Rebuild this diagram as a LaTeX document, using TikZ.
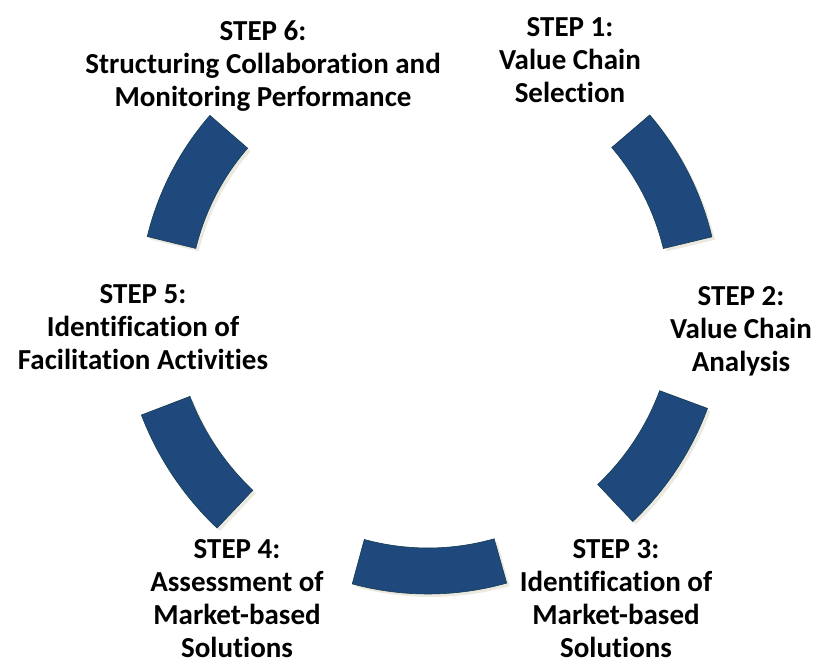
\documentclass[tikz,border=0pt]{standalone}
\usepackage{fontspec}
\setmainfont{Carlito}[Ligatures=NoCommon]
\usepackage{tikz}
\usetikzlibrary{positioning}
\definecolor{cycleblue}{RGB}{31, 73, 125}
\definecolor{cycleedge}{RGB}{20, 60, 80}
\definecolor{cycleshade}{RGB}{236, 234, 224}

\begin{document}
\begin{tikzpicture}[x=1pt, y=1pt,
    segm/.style={fill=cycleblue, draw=cycleedge, line width=0.6pt},
    segmshade/.style={fill=cycleshade},
    steplabel/.style={align=center, inner sep=0pt, font=\fontsize{29}{33}\selectfont\bfseries}]
    % Frame
    \useasboundingbox (0,0) rectangle (814,-666);
    % Ring segments (shadow first)
    \foreach \a/\b/\ri/\ro in {13.5/40.6/242/292, -46.6/-20.3/247/298, -105.2/-74.2/243/289,
                               -159/-133.4/255/307, 139/166.3/239/289} {
        \fill[segmshade, shift={(431,-308)}] (\a:\ri) arc[start angle=\a, end angle=\b, radius=\ri]
            -- (\b:\ro) arc[start angle=\b, end angle=\a, radius=\ro] -- cycle;
        \path[segm, shift={(428,-305)}] (\a:\ri) arc[start angle=\a, end angle=\b, radius=\ri]
            -- (\b:\ro) arc[start angle=\b, end angle=\a, radius=\ro] -- cycle;
    }
    % Labels
    \node[steplabel] (s6) at (263,-66) {STEP 6:\\Structuring Collaboration and\\Monitoring Performance};
    \node[steplabel] (s1) at (570,-60.5) {STEP 1:\\Value Chain\\Selection};
    \node[steplabel] (s2) at (741,-331) {STEP 2:\\Value Chain\\Analysis};
    \node[steplabel] (s5) at (143,-327) {STEP 5:\\Identification of\\Facilitation Activities};
    \node[steplabel] (s3) at (616,-598.5) {STEP 3:\\Identification of\\Market-based\\Solutions};
    \node[steplabel] (s4) at (237,-599) {STEP 4:\\Assessment of\\Market-based\\Solutions};
\end{tikzpicture}
\end{document}
